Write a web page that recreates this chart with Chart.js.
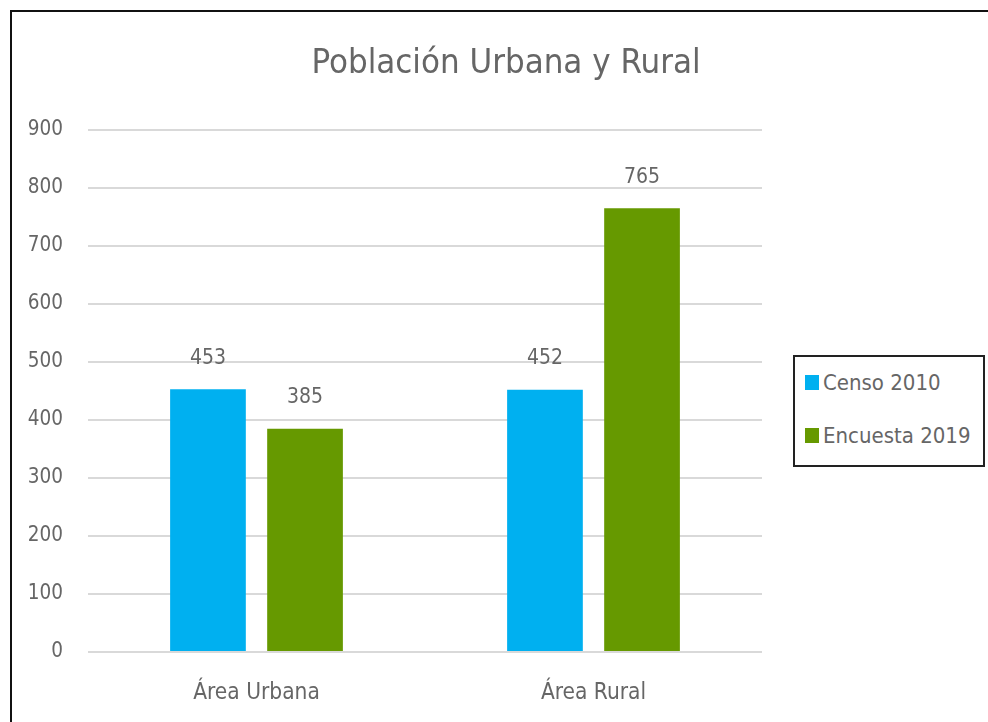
<!DOCTYPE html>
<html>
<head>
<meta charset="utf-8">
<script src="https://cdn.jsdelivr.net/npm/chart.js@4/dist/chart.umd.min.js"></script>
<style>
  html, body { margin: 0; padding: 0; background: #fff; overflow: hidden; }
  body { width: 988px; height: 722px; position: relative; }
  #frame { position: absolute; left: 10px; top: 10px; width: 2000px; height: 2000px;
           border: 2px solid #111; pointer-events: none; }
  #wrap { position: absolute; left: 12px; top: 0; width: 988px; height: 722px; }
  #legend { position: absolute; left: 793px; top: 355px; width: 188px; height: 108px;
            border: 2px solid #222; box-sizing: content-box; background: #fff;
            font-family: "Liberation Sans Narrow", "Arial Narrow", "DejaVu Sans Condensed", sans-serif;
            font-size: 22px; color: #666; }
  .item { position: absolute; left: 10px; display: flex; align-items: center; white-space: nowrap; }
  .item i { display: inline-block; width: 14px; height: 15px; margin-right: 4px; }
</style>
</head>
<body>
<div id="wrap"><canvas id="chart" width="988" height="722"></canvas></div>
<div id="legend"></div>
<div id="frame"></div>
<script>
const FONT = '"Liberation Sans Narrow", "Arial Narrow", "DejaVu Sans Condensed", sans-serif';
const TEXT = '#666';

// data
const categories = ['Área Urbana', 'Área Rural'];
const censo2010 = [453, 452];
const encuesta2019 = [385, 765];
const seriesNames = ['Censo 2010', 'Encuesta 2019'];
const seriesColors = ['#00B0F0', '#669900'];
const yTicks = [0, 100, 200, 300, 400, 500, 600, 700, 800, 900];

// value labels above each bar
const barValues = {
  id: 'barValues',
  afterDatasetsDraw(chart) {
    const ctx = chart.ctx;
    ctx.save();
    ctx.font = `21px ${FONT}`;
    ctx.fillStyle = TEXT;
    ctx.textAlign = 'center';
    ctx.textBaseline = 'middle';
    chart.data.datasets.forEach((ds, i) => {
      chart.getDatasetMeta(i).data.forEach((bar, j) => {
        ctx.fillText(ds.data[j], bar.x, bar.y - 31);
      });
    });
    ctx.restore();
  }
};

const chart = new Chart(document.getElementById('chart'), {
  type: 'bar',
  data: {
    labels: categories,
    datasets: [
      { label: seriesNames[0], data: censo2010, backgroundColor: seriesColors[0] },
      { label: seriesNames[1], data: encuesta2019, backgroundColor: seriesColors[1] },
    ],
  },
  options: {
    responsive: false,
    animation: false,
    categoryPercentage: 0.576,
    barPercentage: 0.78,
    layout: { padding: 0 },
    plugins: {
      legend: { display: false },
      tooltip: { enabled: false },
      title: {
        display: true,
        text: 'Población Urbana y Rural',
        color: TEXT,
        font: { family: FONT, size: 34.5, weight: 'normal', lineHeight: 1.2 },
        padding: { top: 43, bottom: 45.6 },
      },
    },
    scales: {
      x: {
        grid: { display: false },
        border: { display: false },
        ticks: { color: TEXT, font: { family: FONT, size: 22.5 }, padding: 20 },
        afterFit: s => { s.height = 70; },
      },
      y: {
        min: 0,
        max: 900,
        afterBuildTicks: s => { s.ticks = yTicks.map(v => ({ value: v })); },
        grid: { color: '#d9d9d9', lineWidth: 2, drawTicks: false },
        border: { display: false },
        ticks: { color: TEXT, font: { family: FONT, size: 20.5 }, padding: 25 },
        afterFit: s => { s.width = 76; },
      },
      // empty axis on the right, only to leave room for the legend
      side: {
        position: 'right',
        display: true,
        grid: { display: false },
        border: { display: false },
        ticks: { display: false },
        afterFit: s => { s.width = 238; },
      },
    },
  },
  plugins: [barValues],
});

// legend built from the chart's own dataset entries
const legendEl = document.getElementById('legend');
chart.options.plugins.legend.labels.generateLabels(chart).forEach((it, i) => {
  const row = document.createElement('div');
  row.className = 'item';
  row.style.top = (i === 0 ? 13 : 66) + 'px';
  row.innerHTML = `<i style="background:${it.fillStyle}"></i><span>${it.text}</span>`;
  legendEl.appendChild(row);
});
</script>
</body>
</html>
